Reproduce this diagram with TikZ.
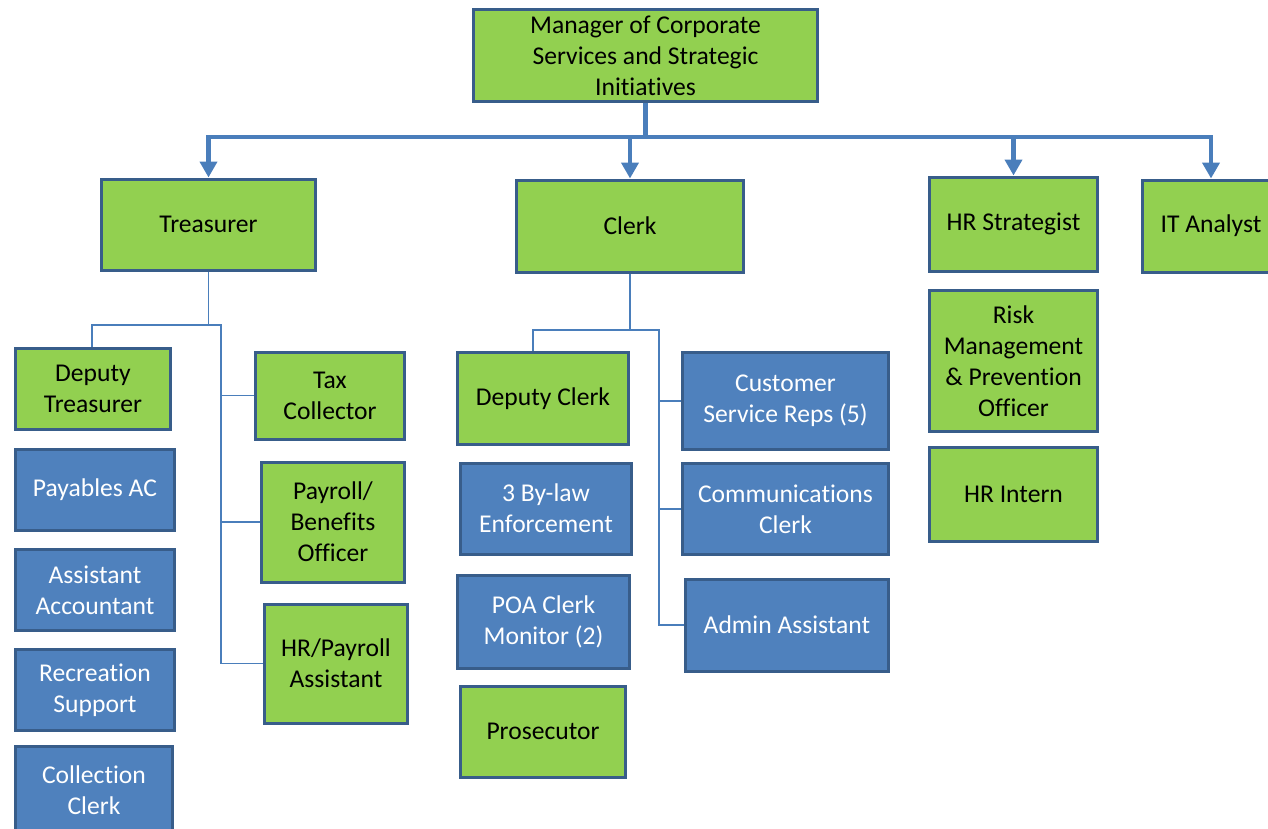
\documentclass[tikz,border=0pt]{standalone}
\usepackage{fontspec}
\setmainfont[Ligatures=NoCommon]{Carlito}
\usetikzlibrary{arrows.meta, positioning}
\definecolor{boxgreen}{HTML}{92D050}
\definecolor{boxblue}{HTML}{4F81BD}
\definecolor{edgeblue}{HTML}{385D8A}
\definecolor{linkblue}{HTML}{4A7EBB}

\begin{document}
\begin{tikzpicture}[
    x=1pt, y=-1pt,
    every node/.style={font=\fontsize{25.6}{31}\selectfont},
    role/.style={
        rectangle,
        draw=edgeblue,
        line width=3pt,
        align=center,
        inner sep=2pt
    },
    greenbox/.style={role, fill=boxgreen, text=black},
    bluebox/.style={role, fill=boxblue, text=white},
    mainlink/.style={draw=linkblue, line width=4.5pt},
    mainarrow/.style={mainlink, -{Triangle[width=17pt, length=16pt]}},
    sublink/.style={draw=linkblue, line width=1.5pt}
]

\useasboundingbox (0,0) rectangle (1268,828);
\clip (0,0) rectangle (1268,828);

% top level
\node[greenbox, minimum width=344pt, minimum height=92pt] (mgr) at (645.5,55.5) {Manager of Corporate\\Services and Strategic\\Initiatives};
\node[greenbox, minimum width=214pt, minimum height=91pt] (treas) at (208.5,224.5) {Treasurer};
\node[greenbox, minimum width=227pt, minimum height=92pt] (clerk) at (630,226) {Clerk};
\node[greenbox, minimum width=168pt, minimum height=94pt] (hrstrat) at (1013.5,224) {HR Strategist};
\node[greenbox, minimum width=137pt, minimum height=92pt] (itan) at (1211,226) {IT Analyst};

% treasurer
\node[greenbox, minimum width=155pt, minimum height=81pt] (dtreas) at (93,389) {Deputy\\Treasurer};
\node[bluebox, minimum width=159pt, minimum height=81pt] (payac) at (95,490) {Payables AC};
\node[bluebox, minimum width=159pt, minimum height=81pt] (asstacc) at (95,590) {Assistant\\Accountant};
\node[bluebox, minimum width=159pt, minimum height=81pt] (recsup) at (95,690) {Recreation\\Support};
\node[bluebox, minimum width=157pt, minimum height=87pt] (collclerk) at (94,790) {Collection\\Clerk};
\node[greenbox, minimum width=149pt, minimum height=87pt] (taxcoll) at (330,395.5) {Tax\\Collector};
\node[greenbox, minimum width=143pt, minimum height=120pt] (payroll) at (333,522) {Payroll/\\Benefits\\Officer};
\node[greenbox, minimum width=143pt, minimum height=119pt] (hrpay) at (336,663.5) {HR/Payroll\\Assistant};

% clerk
\node[greenbox, minimum width=171pt, minimum height=92pt] (dclerk) at (543,398.5) {Deputy Clerk};
\node[bluebox, minimum width=171pt, minimum height=91pt] (bylaw) at (546,508.5) {3 By-law\\Enforcement};
\node[bluebox, minimum width=172pt, minimum height=93pt] (poa) at (543.5,621.5) {POA Clerk\\Monitor (2)};
\node[greenbox, minimum width=165pt, minimum height=91pt] (prosec) at (543,731.5) {Prosecutor};
\node[bluebox, minimum width=206pt, minimum height=97pt] (csr) at (785.5,401) {Customer\\Service Reps (5)};
\node[bluebox, minimum width=206pt, minimum height=91pt] (comms) at (785.5,509) {Communications\\Clerk};
\node[bluebox, minimum width=203pt, minimum height=92pt] (admin) at (787,625) {Admin Assistant};

% hr
\node[greenbox, minimum width=168pt, minimum height=141pt] (risk) at (1013.5,361) {Risk\\Management\\\& Prevention\\Officer};
\node[greenbox, minimum width=168pt, minimum height=94pt] (hrintern) at (1013.5,494.5) {HR Intern};

% main links
\coordinate (bus) at (0,137);
\draw[mainlink] (mgr.south) -- (mgr.south|-bus);
\draw[mainlink, line cap=rect] (treas.north|-bus) -- (itan.north|-bus);
\foreach \n in {treas, clerk, hrstrat, itan}
    \draw[mainarrow] (\n.north|-bus) -- (\n.north);

% treasurer links
\coordinate (ttrunk) at (221,325);
\draw[sublink] (treas.south) -- (treas.south|-ttrunk);
\draw[sublink] ([xshift=-1pt]dtreas.north) |- (ttrunk) |- (hrpay.west);
\draw[sublink] (ttrunk|-taxcoll.west) -- (taxcoll.west);
\draw[sublink] (ttrunk|-payroll.west) -- (payroll.west);

% clerk links
\coordinate (ctrunk) at (659,330);
\draw[sublink] (clerk.south) -- (clerk.south|-ctrunk);
\draw[sublink] ([xshift=-10pt]dclerk.north) |- (ctrunk) |- (admin.west);
\draw[sublink] (ctrunk|-csr.west) -- (csr.west);
\draw[sublink] (ctrunk|-comms.west) -- (comms.west);

\end{tikzpicture}
\end{document}
